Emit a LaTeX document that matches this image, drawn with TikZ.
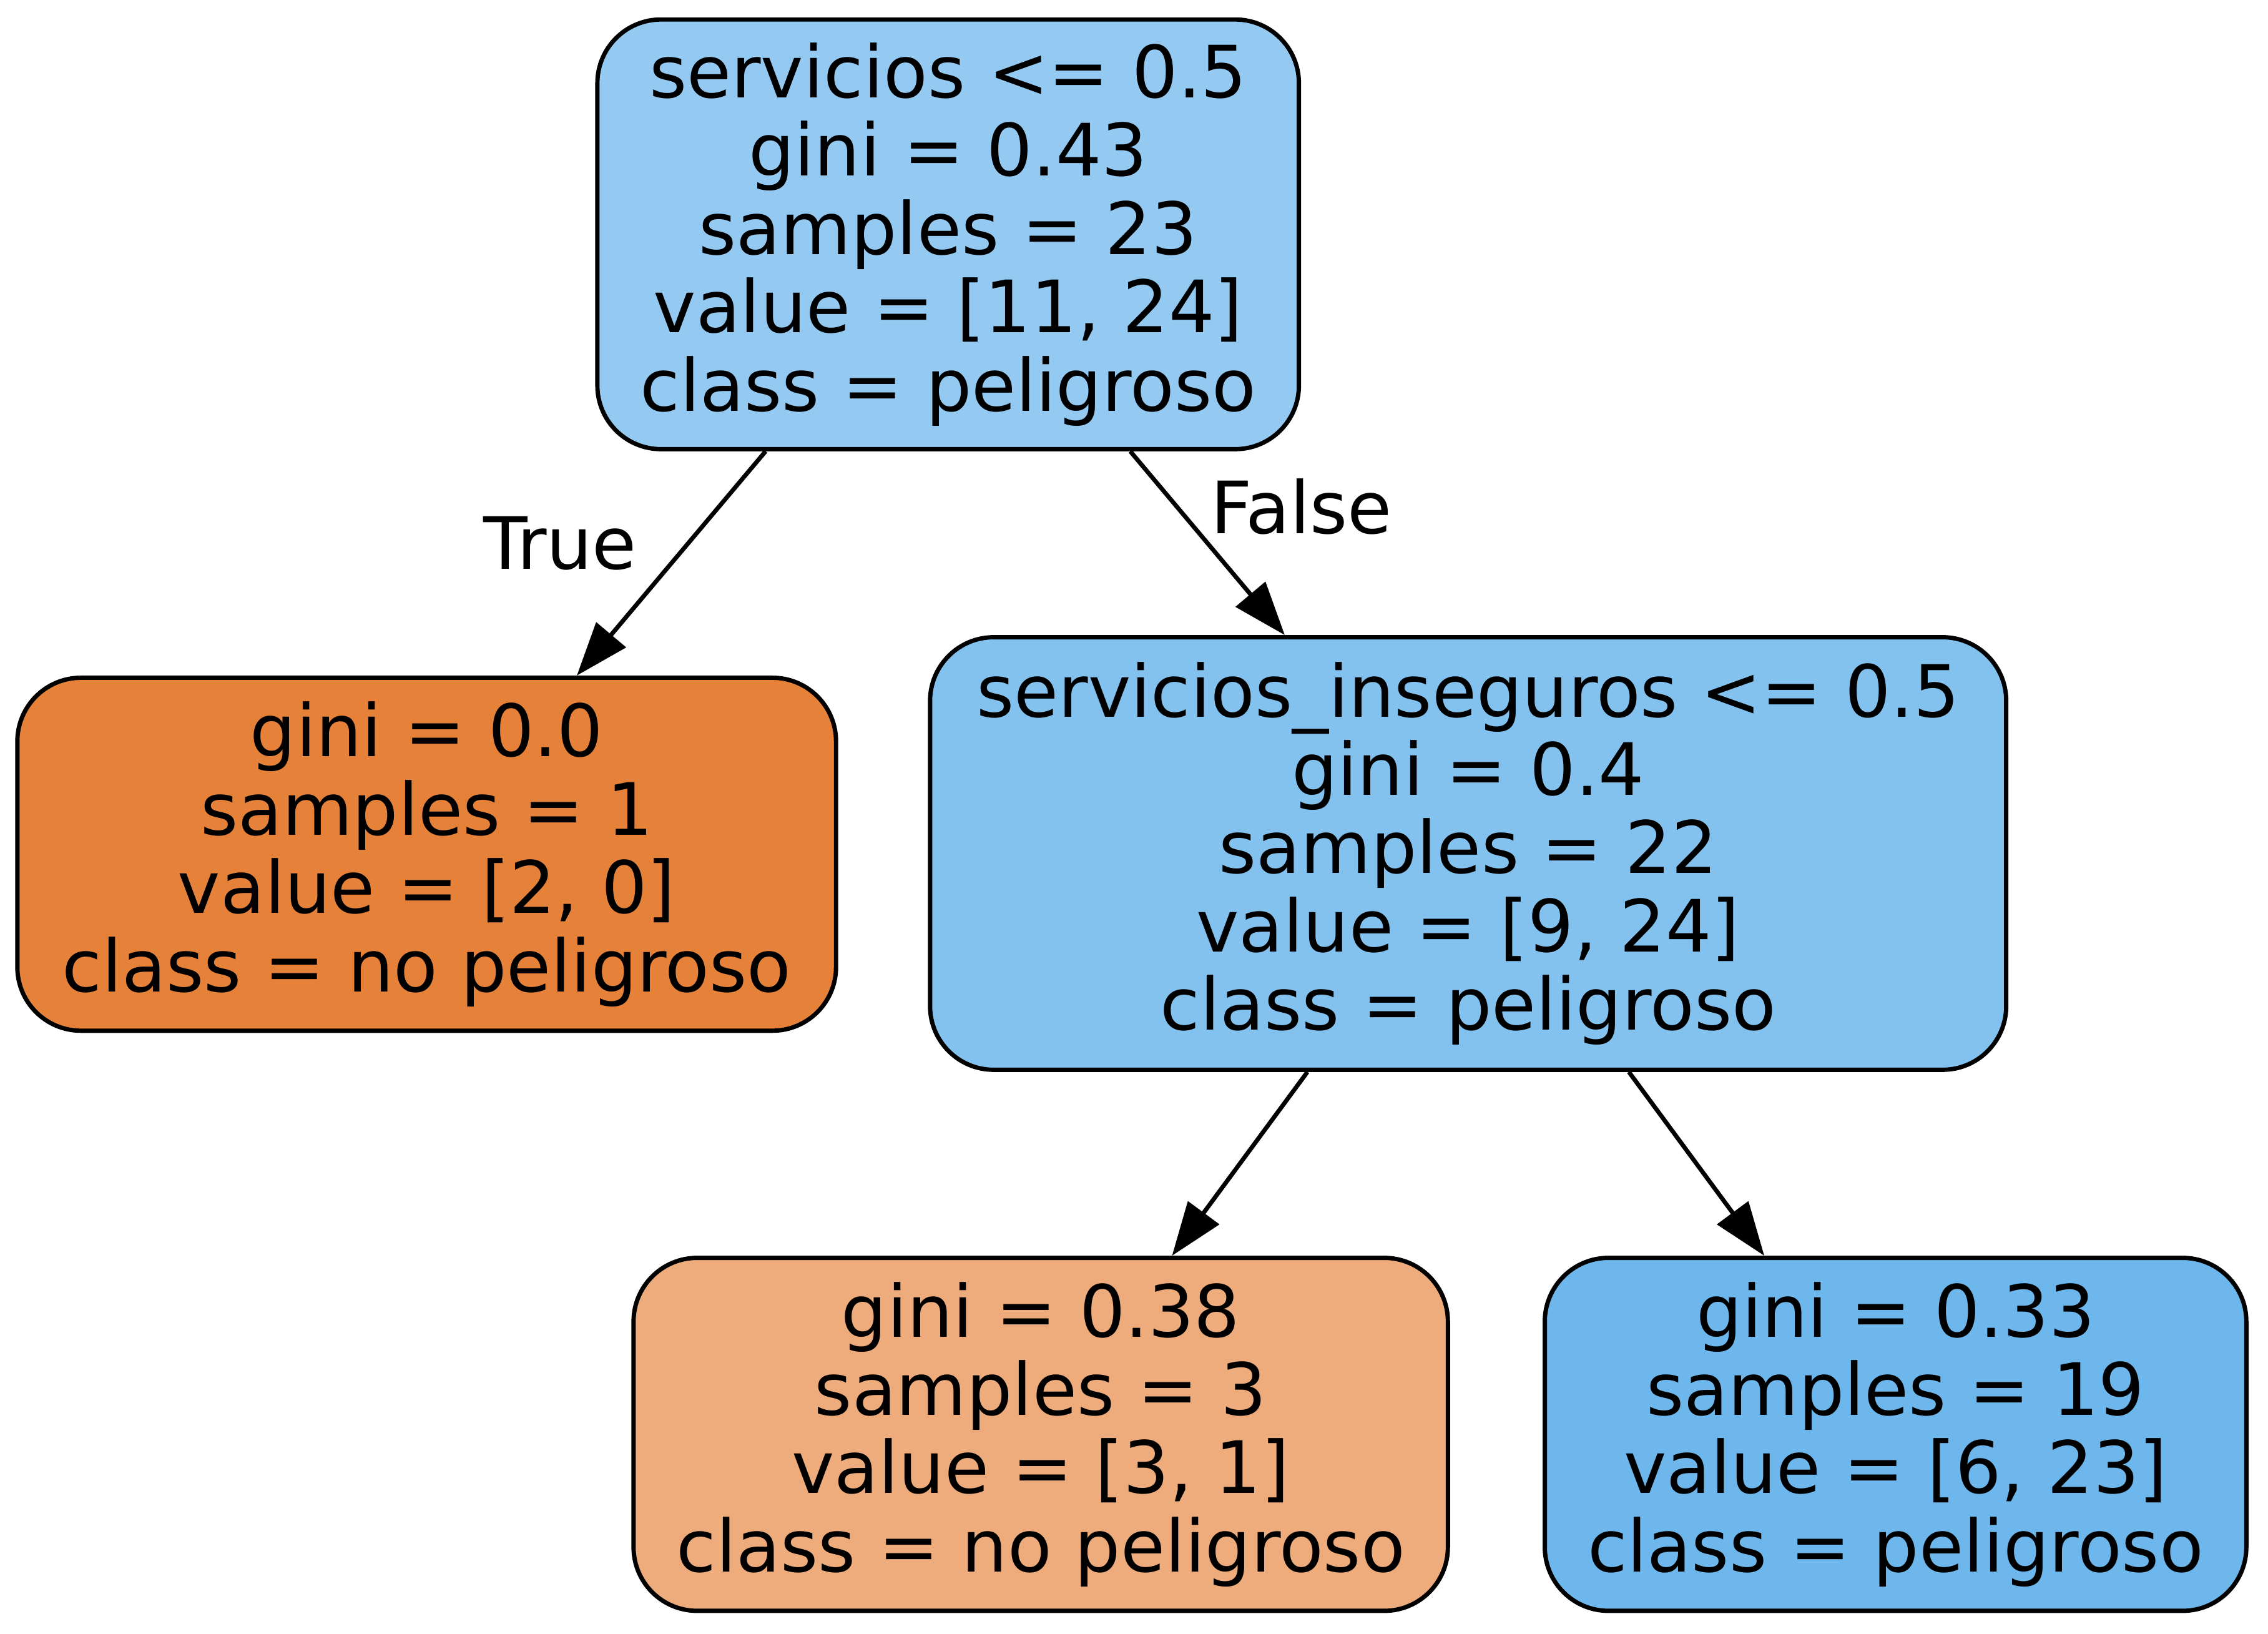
\documentclass[tikz,border=0pt]{standalone}
\usepackage{fontspec}
\setmainfont{DejaVu Sans}
\usetikzlibrary{arrows.meta}
\definecolor{rootblue}{RGB}{148,202,241}
\definecolor{midblue}{RGB}{131,194,239}
\definecolor{leafblue}{RGB}{109,183,236}
\definecolor{darkorange}{RGB}{229,129,57}
\definecolor{lightorange}{RGB}{238,171,123}
\begin{document}
\begin{tikzpicture}[
	treenode/.style={draw, line width=0.85pt, rounded corners=0.44cm, inner sep=0pt, align=center,
		font=\fontsize{14.2}{15.4}\selectfont},
	split/.style={treenode, minimum height=2.97cm},
	leafnode/.style={treenode, minimum height=2.44cm},
	branch/.style={line width=0.85pt, -{Triangle[length=10.5pt, width=7.5pt]}},
	edgelabel/.style={font=\fontsize{14.2}{15.4}\selectfont, inner sep=0pt}]
	\useasboundingbox (0,0) rectangle (15.68,11.295);
	\node[split, fill=rootblue, minimum width=4.85cm] (root) at (6.555,9.675)
		{servicios <= 0.5\\gini = 0.43\\samples = 23\\value = [11, 24]\\class = peligroso};
	\node[leafnode, fill=darkorange, minimum width=5.66cm] (left) at (2.95,5.39)
		{gini = 0.0\\samples = 1\\value = [2, 0]\\class = no peligroso};
	\node[split, fill=midblue, minimum width=7.44cm, minimum height=2.99cm] (mid) at (10.15,5.395)
		{servicios\_inseguros <= 0.5\\gini = 0.4\\samples = 22\\value = [9, 24]\\class = peligroso};
	\node[leafnode, fill=lightorange, minimum width=5.63cm] (midleft) at (7.195,1.38)
		{gini = 0.38\\samples = 3\\value = [3, 1]\\class = no peligroso};
	\node[leafnode, fill=leafblue, minimum width=4.85cm] (midright) at (13.105,1.38)
		{gini = 0.33\\samples = 19\\value = [6, 23]\\class = peligroso};
	\draw[branch] (root) -- node[edgelabel, pos=0.411, anchor=east, xshift=-0.34cm] (truelabel) {True} (left);
	\draw[branch] (root) -- node[edgelabel, pos=0.3, anchor=west, xshift=0.22cm] (falselabel) {False} (mid);
	\draw[branch] (mid) -- (midleft);
	\draw[branch] (mid) -- (midright);
\end{tikzpicture}
\end{document}
